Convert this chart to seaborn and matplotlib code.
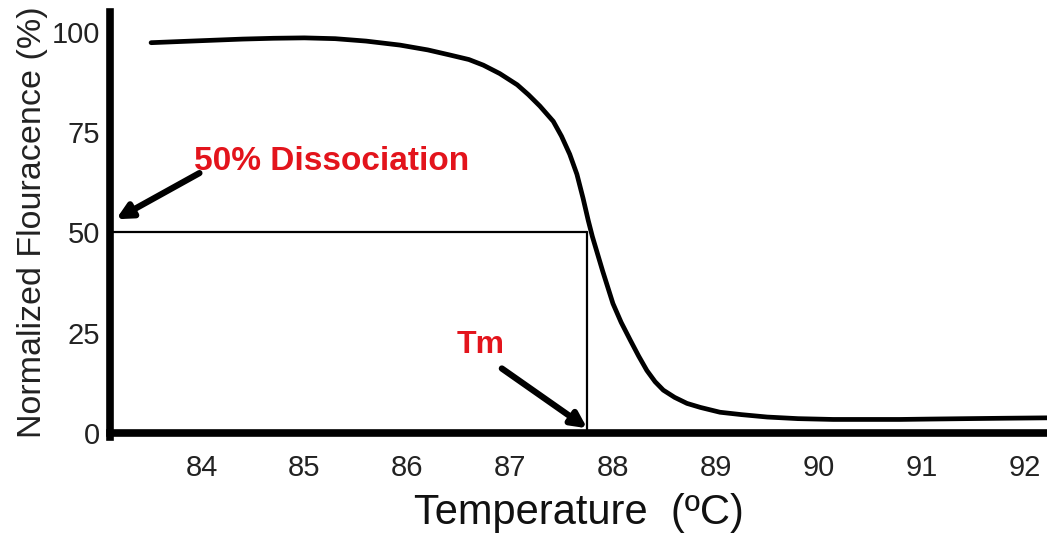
import matplotlib
matplotlib.use("Agg")
import matplotlib.pyplot as plt
import seaborn as sns
import pandas as pd

# melt curve
temperature = [83.51, 83.8, 84.1, 84.4, 84.7, 85.0, 85.3, 85.6, 85.93, 86.2, 86.42, 86.6,
               86.74, 86.9, 87.07, 87.18, 87.29, 87.42, 87.5, 87.58, 87.65, 87.71, 87.76,
               87.8, 87.9, 88.0, 88.08, 88.17, 88.25, 88.33, 88.41, 88.49, 88.6, 88.72,
               88.85, 89.04, 89.25, 89.5, 89.8, 90.14, 90.5, 90.79, 91.1, 91.44, 91.8, 92.22]
fluorescence = [97.3, 97.6, 97.9, 98.2, 98.4, 98.5, 98.3, 97.7, 96.7, 95.5, 94.2, 93.1,
                91.7, 89.6, 86.8, 84.3, 81.5, 77.7, 74.0, 69.5, 64.5, 58.5, 53.0,
                49.0, 40.4, 32.3, 27.6, 23.1, 19.2, 15.6, 12.8, 10.7, 8.9, 7.4,
                6.4, 5.2, 4.6, 4.0, 3.6, 3.4, 3.4, 3.4, 3.5, 3.6, 3.7, 3.8]
tm = 87.75
half = 50

df = pd.DataFrame({"Temperature": temperature, "Fluorescence": fluorescence})

sns.set_style("white")
plt.rcParams['font.family'] = ['Liberation Sans', 'DejaVu Sans']

fig = plt.figure(figsize=(10.47, 5.36), dpi=100)
ax = fig.add_axes([0.105, 0.192, 0.895, 0.786])

sns.lineplot(data=df, x="Temperature", y="Fluorescence", ax=ax, color="black",
             linewidth=3.4, estimator=None, sort=False,
             solid_joinstyle="round", solid_capstyle="round")

ax.plot([83.11, tm], [half, half], color="black", linewidth=1.6)
ax.plot([tm, tm], [0, half], color="black", linewidth=1.6)

ax.set_xlim(83.11, 92.22)
ax.set_ylim(0, 105)
ax.set_xticks([84, 85, 86, 87, 88, 89, 90, 91, 92])
ax.set_yticks([0, 25, 50, 75, 100])

for s in ["top", "right"]:
    ax.spines[s].set_visible(False)
for s in ["left", "bottom"]:
    ax.spines[s].set_linewidth(5.5)
    ax.spines[s].set_color("black")
ax.spines["left"].set_bounds(-1, 105)

ax.tick_params(axis="both", direction="out", length=6, width=1.5, color="#222222",
               labelsize=21, labelcolor="#222222")
ax.tick_params(axis="y", pad=1)
ax.tick_params(axis="x", pad=9)

ax.set_xlabel("Temperature  (ºC)", fontsize=30, color="#111111", labelpad=8)
ax.set_ylabel("Normalized Flouracence (%)", fontsize=24.5, color="#222222", labelpad=3)

red = "#e3141c"
ax.text(83.93, 67.7, "50% Dissociation", color=red, fontsize=24, fontweight="bold",
        ha="left", va="center")
ax.annotate("", xy=(83.17, 53.3), xytext=(83.98, 64.8),
            arrowprops=dict(arrowstyle="-|>,head_length=0.9,head_width=0.45",
                            color="black", lw=4.5, shrinkA=0, shrinkB=0))
ax.text(86.71, 22.0, "Tm", color=red, fontsize=23, fontweight="bold",
        ha="center", va="center")
ax.annotate("", xy=(tm, 1.2), xytext=(86.92, 16.1),
            arrowprops=dict(arrowstyle="-|>,head_length=0.9,head_width=0.45",
                            color="black", lw=4.5, shrinkA=0, shrinkB=0))

fig.savefig("out.png", dpi=100)
